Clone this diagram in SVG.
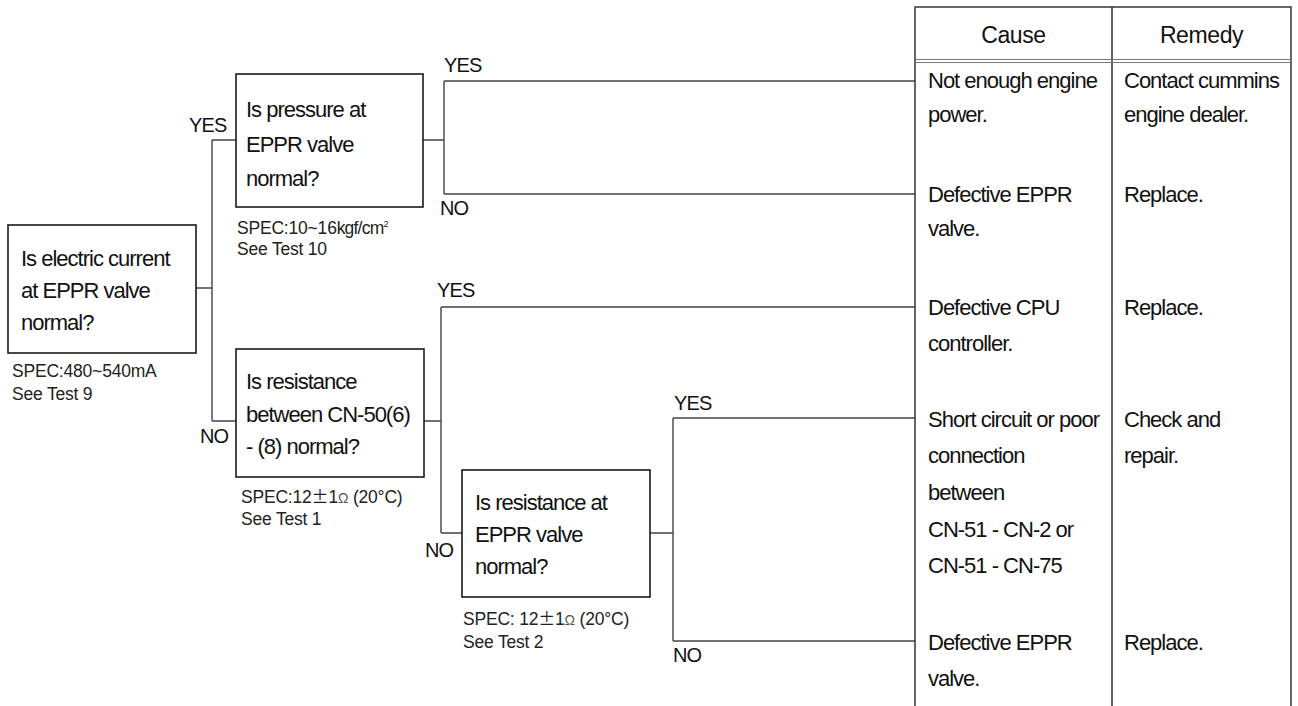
<svg xmlns="http://www.w3.org/2000/svg" width="1298" height="706" viewBox="0 0 1298 706">
<style>
text{font-family:"Liberation Sans","Noto Sans CJK JP",sans-serif;fill:#111;}
.t{font-size:22px;letter-spacing:-1px;}
.h{font-size:23px;letter-spacing:-0.4px;text-anchor:middle;}
.l{font-size:20px;letter-spacing:-0.9px;}
.s{font-size:17.5px;letter-spacing:-0.2px;fill:#222;}
.box{fill:#fff;stroke:#1a1a1a;stroke-width:1.6;}
.c{fill:none;stroke:#444;stroke-width:1.4;}
.tb{fill:none;stroke:#333;stroke-width:1.5;}
.tb2{fill:none;stroke:#777;stroke-width:1.2;}
</style>
<g id="connectors">
<path class="c" d="M196,288H212M212,140V421M212,140H236M212,421H236"/>
<path class="c" d="M423,140H444M444,81V194M444,81H915M444,194H915"/>
<path class="c" d="M424,421H441M441,307V533M441,307H915M441,533H462"/>
<path class="c" d="M650,533H673M673,418V641M673,418H915M673,641H915"/>
<text class="l" x="189" y="132">YES</text>
<text class="l" x="200" y="443">NO</text>
<text class="l" x="444" y="72">YES</text>
<text class="l" x="440" y="215">NO</text>
<text class="l" x="437" y="297">YES</text>
<text class="l" x="425" y="557">NO</text>
<text class="l" x="674" y="410">YES</text>
<text class="l" x="673" y="662">NO</text>
</g>
<g id="q1">
<rect class="box" x="8" y="225" width="188" height="128"/>
<text class="t" x="21" y="266">Is electric current</text>
<text class="t" x="21" y="298">at EPPR valve</text>
<text class="t" x="21" y="330">normal?</text>
<text class="s" x="12" y="377">SPEC:480~540mA</text>
<text class="s" x="12" y="400">See Test 9</text>
</g>
<g id="q2">
<rect class="box" x="236" y="74" width="187" height="133"/>
<text class="t" x="246" y="117">Is pressure at</text>
<text class="t" x="246" y="151.5">EPPR valve</text>
<text class="t" x="246" y="186">normal?</text>
<text class="s" x="237" y="234">SPEC:10~16<tspan style="letter-spacing:-0.8px">kgf/cm</tspan><tspan font-size="9" dy="-7">2</tspan></text>
<text class="s" x="237" y="255">See Test 10</text>
</g>
<g id="q3">
<rect class="box" x="236" y="349" width="188" height="128"/>
<text class="t" x="246" y="389">Is resistance</text>
<text class="t" x="246" y="422">between CN-50(6)</text>
<text class="t" x="246" y="454">- (8) normal?</text>
<text class="s" x="241" y="503">SPEC:12<tspan font-family="Noto Sans CJK JP" font-size="17">±</tspan>1<tspan font-size="14" fill="#555">Ω</tspan> (20°C)</text>
<text class="s" x="241" y="525">See Test 1</text>
</g>
<g id="q4">
<rect class="box" x="462" y="470" width="188" height="127"/>
<text class="t" x="475" y="510">Is resistance at</text>
<text class="t" x="475" y="542">EPPR valve</text>
<text class="t" x="475" y="574">normal?</text>
<text class="s" x="463" y="625">SPEC: 12<tspan font-family="Noto Sans CJK JP" font-size="17">±</tspan>1<tspan font-size="14" fill="#555">Ω</tspan> (20°C)</text>
<text class="s" x="463" y="648">See Test 2</text>
</g>
<g id="table">
<path class="tb" d="M915,706V7H1291V706M1112,7V706"/>
<path class="tb2" d="M915,59.5H1291M915,62.5H1291"/>
<text class="h" x="1013.5" y="43">Cause</text>
<text class="h" x="1201.5" y="43">Remedy</text>
</g>
<g id="r1">
<text class="t" x="928" y="88">Not enough engine</text>
<text class="t" x="928" y="122">power.</text>
<text class="t" x="1124" y="88">Contact cummins</text>
<text class="t" x="1124" y="122">engine dealer.</text>
</g>
<g id="r2">
<text class="t" x="928" y="202">Defective EPPR</text>
<text class="t" x="928" y="236">valve.</text>
<text class="t" x="1124" y="202">Replace.</text>
</g>
<g id="r3">
<text class="t" x="928" y="315">Defective CPU</text>
<text class="t" x="928" y="351">controller.</text>
<text class="t" x="1124" y="315">Replace.</text>
</g>
<g id="r4">
<text class="t" x="928" y="427">Short circuit or poor</text>
<text class="t" x="928" y="463">connection</text>
<text class="t" x="928" y="500">between</text>
<text class="t" x="928" y="537">CN-51 - CN-2 or</text>
<text class="t" x="928" y="573">CN-51 - CN-75</text>
<text class="t" x="1124" y="427">Check and</text>
<text class="t" x="1124" y="463">repair.</text>
</g>
<g id="r5">
<text class="t" x="928" y="650">Defective EPPR</text>
<text class="t" x="928" y="686">valve.</text>
<text class="t" x="1124" y="650">Replace.</text>
</g>
</svg>
